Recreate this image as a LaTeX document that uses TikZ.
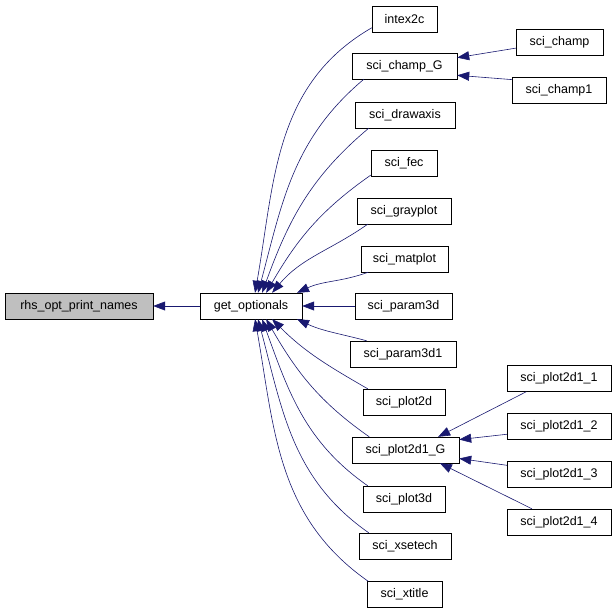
\documentclass[tikz,border=0pt]{standalone}
\usepackage{fontspec}
\setmainfont{Liberation Sans}
\usetikzlibrary{arrows.meta,positioning,calc}
\definecolor{edgecolor}{RGB}{25,25,112}
\definecolor{rootfill}{RGB}{191,191,191}

\begin{document}
\begin{tikzpicture}[x=1pt,y=1pt,
    fn/.style={draw=black,fill=white,rectangle,inner sep=0pt,minimum height=26,
               font=\fontsize{12.5}{14}\selectfont},
    edge/.style={edgecolor,line width=0.6pt,-{Triangle[length=12pt,width=9pt]}}]
    \useasboundingbox (0,0) rectangle (615,-610);

    % Root and the called function
    \node[fn,fill=rootfill,minimum width=148] (rhs) at (79,-306) {rhs\_opt\_print\_names};
    \node[fn,minimum width=102] (get) at (251,-306) {get\_optionals};

    % Callers of get_optionals
    \node[fn,minimum width=65]  (intex2c)  at (404.5,-19)  {intex2c};
    \node[fn,minimum width=105] (champG)   at (404.5,-66)  {sci\_champ\_G};
    \node[fn,minimum width=100] (drawaxis) at (405,-115)   {sci\_drawaxis};
    \node[fn,minimum width=66]  (fec)      at (404,-163)   {sci\_fec};
    \node[fn,minimum width=94]  (grayplot) at (404,-211)   {sci\_grayplot};
    \node[fn,minimum width=87]  (matplot)  at (404.5,-259) {sci\_matplot};
    \node[fn,minimum width=97]  (paramA)   at (403.5,-306) {sci\_param3d};
    \node[fn,minimum width=106] (paramB)   at (403,-354)   {sci\_param3d1};
    \node[fn,minimum width=82]  (plottwo)  at (404,-402)   {sci\_plot2d};
    \node[fn,minimum width=107] (plotG)    at (405.5,-450) {sci\_plot2d1\_G};
    \node[fn,minimum width=82]  (plotthree) at (404,-499)  {sci\_plot3d};
    \node[fn,minimum width=92]  (xsetech)  at (405,-546)   {sci\_xsetech};
    \node[fn,minimum width=75]  (xtitle)   at (404.5,-594.5) {sci\_xtitle};

    % Callers of the _G wrappers
    \node[fn,minimum width=87]  (champ)    at (559.5,-42)  {sci\_champ};
    \node[fn,minimum width=94]  (champone) at (559,-90.5)  {sci\_champ1};
    \node[fn,minimum width=104] (plotA)    at (559,-378.5) {sci\_plot2d1\_1};
    \node[fn,minimum width=104] (plotB)    at (559,-426)   {sci\_plot2d1\_2};
    \node[fn,minimum width=104] (plotC)    at (559,-474.5) {sci\_plot2d1\_3};
    \node[fn,minimum width=104] (plotD)    at (559,-522)   {sci\_plot2d1\_4};

    % Edges into get_optionals
    \draw[edge] (get) -- (rhs);
    \draw[edge] (intex2c.195)  to[out=210,in=80] (get.73);
    \draw[edge] (champG.198)   to[out=220,in=75] (get.62);
    \draw[edge] (drawaxis.200) to[out=220,in=70] (get.50);
    \draw[edge] (fec.200)      to[out=215,in=60] (get.41);
    \draw[edge] (grayplot.200) to[out=215,in=50] (get.32);
    \draw[edge] (matplot.200)  to[out=200,in=25] (get.16);
    \draw[edge] (paramA) -- (get);
    \draw[edge] (paramB.160)   to[out=165,in=-25] (get.-16);
    \draw[edge] (plottwo.160)  to[out=150,in=-45] (get.-32);
    \draw[edge] (plotG.160)    to[out=145,in=-60] (get.-41);
    \draw[edge] (plotthree.160) to[out=145,in=-70] (get.-50);
    \draw[edge] (xsetech.160)  to[out=145,in=-75] (get.-62);
    \draw[edge] (xtitle.160)   to[out=145,in=-80] (get.-73);

    % Edges into the _G wrappers
    \draw[edge] (champ.188)    -- (champG.9);
    \draw[edge] (champone.167) -- (champG.-10);
    \draw[edge] (plotA.202)    -- (plotG.22);
    \draw[edge] (plotB.189)    -- (plotG.11);
    \draw[edge] (plotC.170)    -- (plotG.-9);
    \draw[edge] (plotD.154)    -- (plotG.-21);
\end{tikzpicture}
\end{document}
